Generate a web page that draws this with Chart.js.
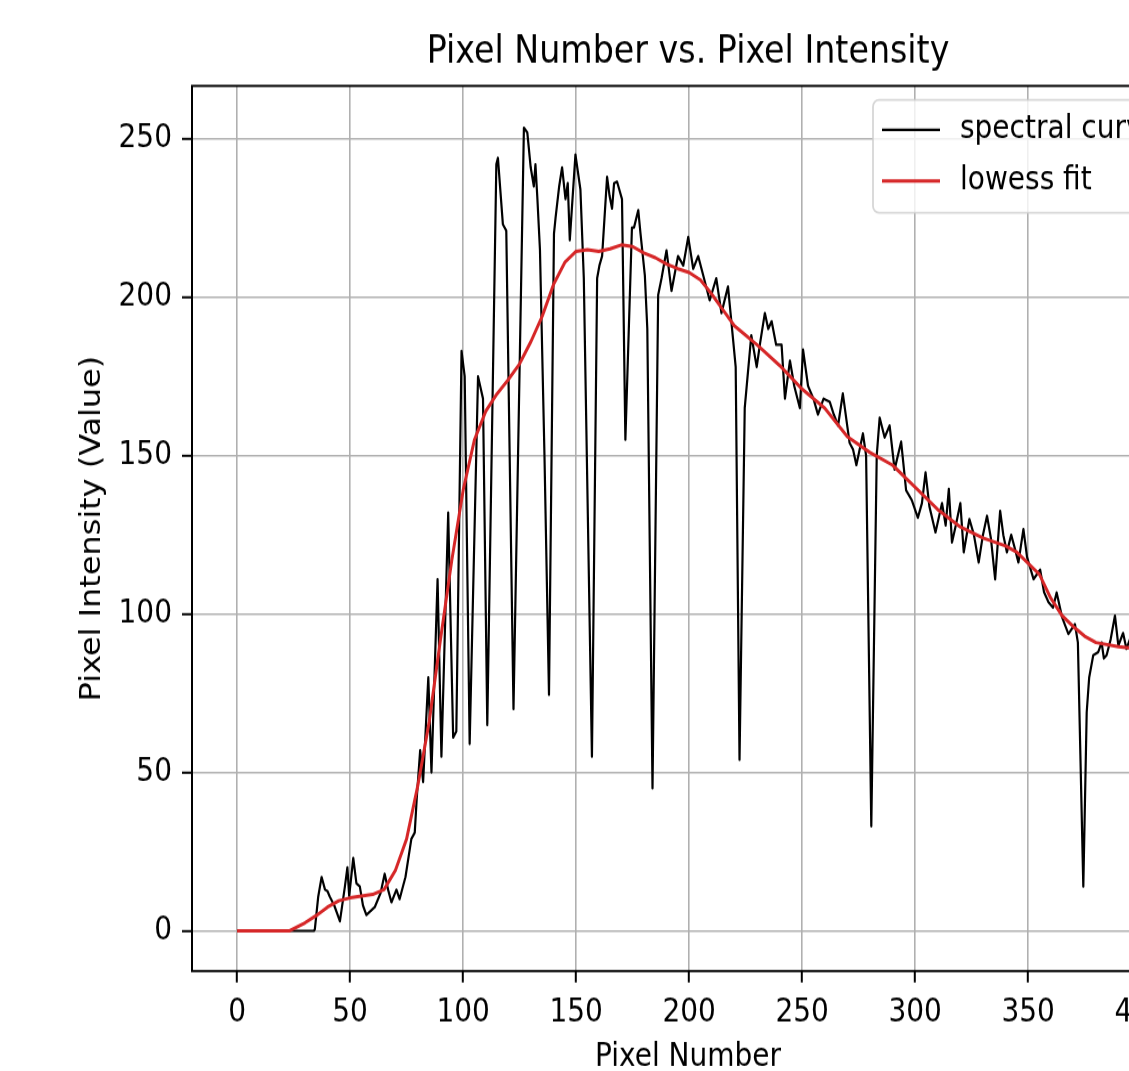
<!DOCTYPE html>
<html lang="en">
<head>
<meta charset="UTF-8">
<title>Pixel Number vs. Pixel Intensity</title>
<script src="https://cdn.jsdelivr.net/npm/chart.js"></script>
<style>
  html, body { margin: 0; padding: 0; overflow: hidden; background: #fff; }
  body { width: 1129px; height: 1071px; }
  /* the reference picture is stretched vertically, so the chart is too */
  .wrap { width: 1240px; height: 960px; transform: scaleY(1.14); transform-origin: 0 0; }
</style>
</head>
<body>
<div class="wrap"><canvas id="spectrum"></canvas></div>
<script>
// spectral curve
const specX = [0, 34, 34.4, 35.9, 37.4, 38.9, 40, 41, 43, 45.5, 47.7, 48.8, 49.6, 51.4, 52.8, 54.3, 55.7, 57.2, 60.9, 63.5,
  65.3, 66.8, 68.3, 70.5, 71.9, 74.5, 77.1, 78.6, 79.5, 81, 82.3, 84.6, 86, 88.7, 90.4, 93.4, 95.6, 97, 99.3, 100.7,
  102.9, 106.6, 108.8, 110.7, 114.7, 115.4, 117.6, 119.1, 122.3, 126.9, 128.4, 129.9, 131.3, 132, 132.8, 134, 136, 138, 140.2, 140.9,
  142.5, 143.8, 145.3, 146.3, 147.2, 149.7, 151.9, 153.4, 157, 159.3, 160.3, 161.5, 163.7, 164.8, 165.9, 166.8, 168.1, 170.3, 171.8, 174.7,
  175.6, 177.5, 178.5, 180.4, 181.5, 183.8, 186.3, 187.8, 190, 192.2, 195.1, 197.4, 199.6, 201.8, 204, 206.2, 209.1, 212, 214.3, 217.2,
  219.4, 220.6, 222.3, 224.6, 227.5, 229.9, 231.5, 233.5, 235, 236.5, 238.5, 240.9, 242.4, 244.6, 246.5, 249, 250.4, 252.6, 255, 257,
  259.5, 262.2, 264, 265.9, 268, 271, 272.5, 274, 276.9, 278.3, 280.6, 283, 284.3, 286.5, 288.7, 290.9, 293.8, 296, 298.5, 301.2,
  303, 304.6, 306.3, 309, 311.9, 313.5, 314.9, 316.3, 318, 320, 321.5, 324, 326, 328.1, 330, 331.8, 333.5, 335.4, 337.6, 339,
  340.6, 342.5, 344, 345.7, 347.9, 349.5, 352.4, 355.3, 357, 359, 361, 362.6, 365, 367.8, 370.7, 372, 374.4, 375.9, 377, 378.8,
  381, 382.5, 383.5, 384.7, 386.5, 388.4, 389.9, 392, 393.5, 395, 397, 399];
const specY = [0, 0, 0.5, 10.8, 17, 13, 12.5, 10.8, 8, 3, 14, 20, 11, 23, 15, 14, 8, 5, 7.5, 12,
  18, 13, 9, 13, 10, 17, 29, 31, 42, 57, 47, 80, 50, 111, 55, 132, 61, 63, 183, 175,
  59, 175, 168, 65, 242, 244, 223, 221, 70, 253.5, 252, 241, 235, 242, 232, 215, 150, 74.5, 220, 225,
  235, 241, 231, 236, 218, 245, 234, 206, 55, 206, 210, 213, 238, 232, 228, 236, 236.5, 231, 155, 222,
  222, 227.5, 220, 207, 190, 45, 200.7, 206, 214.8, 202, 213, 210, 219, 209, 213, 207, 199, 206, 195, 203.4,
  187, 178, 54, 165, 188, 178, 186, 195, 190, 192.4, 185, 185, 168, 180, 172, 165, 183.5, 172, 168, 163,
  168, 167, 163, 159.5, 169.6, 154, 152, 147, 157, 150, 33, 150, 162, 155.7, 159.5, 145.6, 154.4, 139, 136, 130.4,
  135, 144.7, 134, 125.8, 135, 128, 139.5, 122.6, 128, 135, 119.5, 130, 125, 116.3, 125, 131, 124, 111, 132.6, 125,
  119.5, 125, 121, 116.3, 126.8, 118, 111, 114, 107, 103.7, 102, 106.8, 99, 93.7, 96.8, 91, 14, 69, 80, 87,
  88, 91, 86, 87, 92, 99.5, 90, 94, 89, 92, 88, 90];

// lowess fit
const fitX = [0, 23, 30, 35, 40, 45, 50, 55, 60, 65, 70, 75, 80, 85, 90, 95, 100, 105, 110, 115,
  120, 125, 130, 135, 140, 145, 150, 155, 160, 165, 170, 175, 180, 185, 190, 195, 200, 205, 210, 215,
  220, 225, 230, 240, 250, 260, 270, 280, 290, 300, 310, 320, 330, 340, 345, 350, 355, 360, 365, 370,
  375, 380, 390, 399];
const fitY = [0, 0, 2.5, 4.8, 7.5, 9.5, 10.4, 11, 11.5, 13, 19, 29, 46, 66, 92, 117, 139, 155, 164, 169.5,
  174, 179, 186, 194, 204, 211, 214.5, 215, 214.5, 215.3, 216.5, 216, 214, 212.5, 210.5, 209, 207.8, 205.5, 201, 196,
  191, 188, 185, 178.5, 171, 165, 156, 151, 147, 140, 133, 127.5, 124, 121.5, 119.5, 116, 112.5, 105, 99.5, 96,
  93, 91, 89.7, 89];

const xTicks = [0, 50, 100, 150, 200, 250, 300, 350, 400];
const yTicks = [0, 50, 100, 150, 200, 250];

Chart.defaults.font.family = '"DejaVu Sans", sans-serif';
Chart.defaults.color = '#000';

// axes frame on all four sides + matplotlib style legend inside the plot
const frameAndLegend = {
    id: 'frameAndLegend',
    afterDraw(chart) {
        const { ctx, chartArea: a } = chart;
        ctx.save();
        ctx.strokeStyle = '#000';
        ctx.lineWidth = 2;
        ctx.strokeRect(a.left, a.top, a.right - a.left, a.bottom - a.top);

        const w = 299, h = 99;
        const left = a.right - 12 - w, top = a.top + 12.3;
        ctx.beginPath();
        if (ctx.roundRect) ctx.roundRect(left, top, w, h, 6);
        else ctx.rect(left, top, w, h);
        ctx.fillStyle = 'rgba(255,255,255,0.8)';
        ctx.fill();
        ctx.strokeStyle = 'rgba(204,204,204,0.8)';
        ctx.lineWidth = 1.8;
        ctx.stroke();

        ctx.font = '28px "DejaVu Sans"';
        ctx.textBaseline = 'middle';
        ctx.fillStyle = '#000';
        chart.data.datasets.forEach((ds, i) => {
            const y = top + 26.3 + i * 44.7;
            ctx.beginPath();
            ctx.moveTo(left + 9, y);
            ctx.lineTo(left + 67, y);
            ctx.strokeStyle = ds.borderColor;
            ctx.lineWidth = ds.borderWidth;
            ctx.stroke();
            ctx.fillText(ds.label, left + 87, y);
        });
        ctx.restore();
    }
};

const gridOpts = { color: '#b0b0b0', lineWidth: 1.6, tickColor: '#000', tickLength: 10, tickWidth: 2 };

new Chart(document.getElementById('spectrum'), {
    type: 'line',
    data: {
        datasets: [
            {
                label: 'spectral curve',
                data: specX.map((x, i) => ({ x: x, y: specY[i] })),
                borderColor: '#000000',
                borderWidth: 2.2,
                order: 1
            },
            {
                label: 'lowess fit',
                data: fitX.map((x, i) => ({ x: x, y: fitY[i] })),
                borderColor: '#d62728',
                borderWidth: 3,
                order: 0
            }
        ]
    },
    options: {
        responsive: true,
        maintainAspectRatio: false,
        animation: false,
        layout: { padding: { top: 0, right: 56, bottom: 0, left: 0 } },
        elements: {
            point: { radius: 0, hoverRadius: 0 },
            line: { tension: 0, borderJoinStyle: 'round', fill: false }
        },
        plugins: {
            legend: { display: false },
            tooltip: { enabled: false },
            title: {
                display: true,
                fullSize: false,
                text: 'Pixel Number vs. Pixel Intensity',
                color: '#000',
                font: { size: 33.3, weight: 'normal' },
                padding: { top: 26, bottom: 9.4 }
            }
        },
        scales: {
            x: {
                type: 'linear',
                min: -19.95,
                max: 418.95,
                afterBuildTicks: s => { s.ticks = xTicks.map(v => ({ value: v })); },
                afterFit: s => { s.height = 108.2; },
                grid: gridOpts,
                border: { display: false },
                ticks: { font: { size: 28 }, padding: 10, autoSkip: false, maxRotation: 0 },
                title: { display: true, text: 'Pixel Number', font: { size: 28 }, padding: { top: 0, bottom: 15.6 } }
            },
            y: {
                type: 'linear',
                min: -12.7,
                max: 266.7,
                afterBuildTicks: s => { s.ticks = yTicks.map(v => ({ value: v })); },
                afterFit: s => { s.width = 192; },
                grid: gridOpts,
                border: { display: false },
                ticks: { font: { size: 28 }, padding: 10 },
                title: { display: true, text: 'Pixel Intensity (Value)', font: { size: 28 }, padding: { top: 75.8, bottom: 0 } }
            }
        }
    },
    plugins: [frameAndLegend]
});
</script>
</body>
</html>
